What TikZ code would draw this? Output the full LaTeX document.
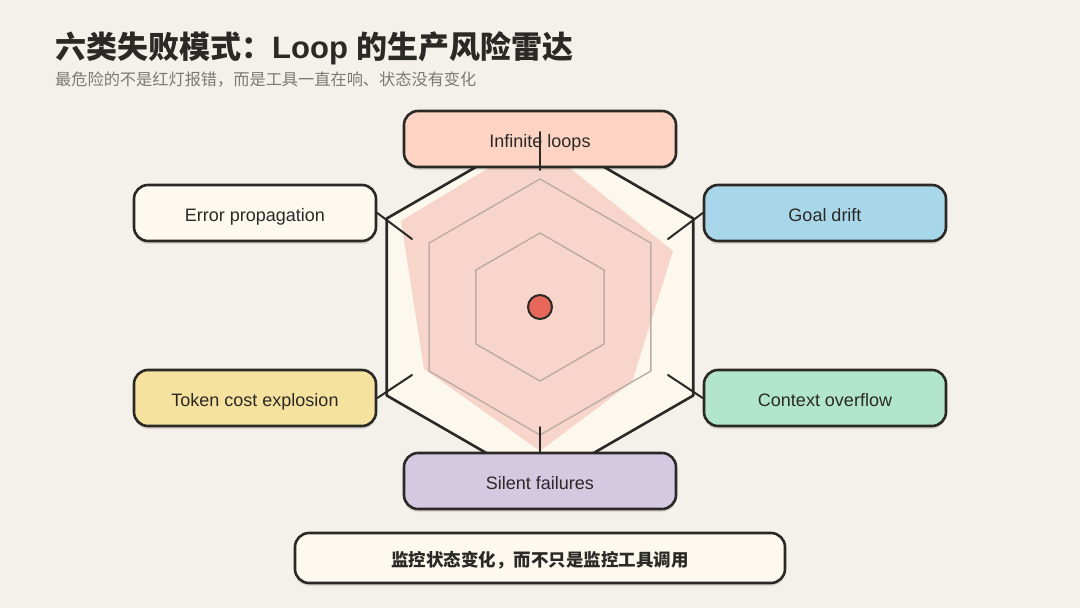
\documentclass[tikz,border=0pt]{standalone}
\usepackage{fontspec}
\setmainfont{Liberation Sans}
\newfontfamily\cjk{Noto Sans CJK SC}
\usetikzlibrary{shadows}

\definecolor{paper}{HTML}{F4F0EA}
\definecolor{ink}{HTML}{2B2926}
\definecolor{subc}{HTML}{7C7874}
\definecolor{hexfill}{HTML}{FCF8EE}
\definecolor{gridc}{HTML}{BCACA4}
\definecolor{risk}{HTML}{F3A295}
\definecolor{dotc}{HTML}{E7685A}
\definecolor{peach}{HTML}{FDD4C3}
\definecolor{cream}{HTML}{FDF9EF}
\definecolor{sky}{HTML}{A9D7EA}
\definecolor{butter}{HTML}{F5E29E}
\definecolor{mint}{HTML}{B2E5CE}
\definecolor{lilac}{HTML}{D5C9E2}

\tikzset{
  mode/.style={draw=ink, line width=2.6pt, rounded corners=14pt, minimum width=242pt,
    minimum height=56pt, text=ink, font=\fontsize{18}{21}\selectfont,
    text height=16pt, text depth=0pt,
    drop shadow={shadow xshift=0pt, shadow yshift=-3pt, opacity=.10, fill=black}},
  wide/.style={minimum width=272pt},
  ring/.style={draw=gridc, line width=1.4pt},
  tick/.style={draw=ink, line width=2pt},
}

\begin{document}
\begin{tikzpicture}[x=1pt, y=-1pt, line join=round, line cap=round]
  \fill[paper] (0,0) rectangle (1080,608);
  \useasboundingbox (0,0) rectangle (1080,608);

  % heading
  \node[anchor=base west, inner sep=0pt, text=ink, font=\fontsize{31}{36}\selectfont\bfseries] (title) at (55,58)
    {{\cjk 六类失败模式：}Loop {\cjk 的生产风险雷达}};
  \node[anchor=base west, inner sep=0pt, text=subc, font=\fontsize{16.2}{18}\selectfont\cjk] (sub) at (55,85)
    {最危险的不是红灯报错，而是工具一直在响、状态没有变化};

  % radar
  \coordinate (c) at (540,307);
  \draw[ink, line width=2.6pt, fill=hexfill, shift={(540,307)}]
    (30:177) -- (90:177) -- (150:177) -- (210:177) -- (270:177) -- (330:177) -- cycle;
  \fill[risk, fill opacity=.40] (535,140) -- (673,251) -- (632,382) -- (540,451) -- (424,369) -- (401,221) -- cycle;
  \foreach \r in {128,74}
    \draw[ring, shift={(540,307)}]
      (30:\r) -- (90:\r) -- (150:\r) -- (210:\r) -- (270:\r) -- (330:\r) -- cycle;
  \node[circle, fill=dotc, draw=ink, line width=2pt, minimum size=24pt, inner sep=0pt] (dot) at (c) {};

  % failure modes
  \node[mode, wide, fill=peach] (loops) at (540,139) {Infinite loops};
  \node[mode, fill=cream] (errp) at (255,213) {Error propagation};
  \node[mode, fill=sky] (drift) at (825,213) {Goal drift};
  \node[mode, fill=butter] (token) at (255,398) {Token cost explosion};
  \node[mode, fill=mint] (ctx) at (825,398) {Context overflow};
  \node[mode, wide, fill=lilac] (silent) at (540,481) {Silent failures};

  \coordinate (kL) at (540,170);
  \coordinate (kE) at (412,239);
  \coordinate (kD) at (668,239);
  \coordinate (kT) at (412,375);
  \coordinate (kC) at (668,375);
  \coordinate (kS) at (540,427);
  \draw[tick] ([yshift=7pt]loops.center) -- (kL);
  \draw[tick] (errp.east) -- (kE);
  \draw[tick] (drift.west) -- (kD);
  \draw[tick] (token.east) -- (kT);
  \draw[tick] (ctx.west) -- (kC);
  \draw[tick] (kS) -- (silent.north);

  % takeaway
  \node[mode, fill=cream, minimum width=490pt, minimum height=50pt,
    font=\fontsize{17.5}{20}\selectfont\bfseries\cjk] (note) at (540,558) {监控状态变化，而不只是监控工具调用};
\end{tikzpicture}
\end{document}
